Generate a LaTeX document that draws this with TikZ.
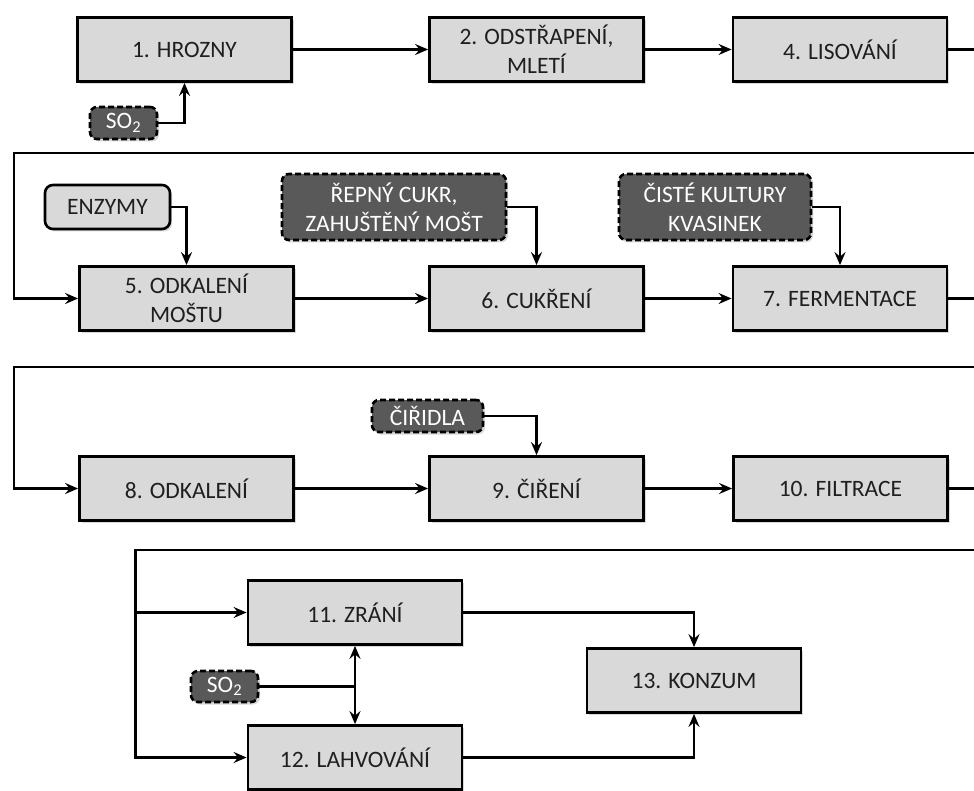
\documentclass[tikz,border=0pt]{standalone}
\usepackage{fontspec}
\setmainfont{Carlito}
\usetikzlibrary{arrows.meta,shadows}

\definecolor{boxgray}{HTML}{D9D9D9}
\definecolor{addgray}{HTML}{595959}
\definecolor{inkgray}{HTML}{1F1F1F}

\tikzset{
	stepbox/.style={draw, line width=2.8pt, fill=boxgray, text=inkgray, minimum width=214pt, minimum height=64pt, align=center, inner sep=2pt, drop shadow={shadow xshift=2pt, shadow yshift=-2.5pt, opacity=0.3}},
	addbox/.style={draw, dash pattern=on 6pt off 3pt, line width=2.6pt, rounded corners=7pt, fill=addgray, text=white, align=center, inner sep=2pt, drop shadow={shadow xshift=2pt, shadow yshift=-2.5pt, opacity=0.3}},
	enzbox/.style={draw, line width=2.6pt, rounded corners=8pt, fill=boxgray, text=inkgray, align=center, inner sep=2pt, drop shadow={shadow xshift=2pt, shadow yshift=-2.5pt, opacity=0.3}},
	conn/.style={line width=2.4pt, -{Stealth[length=13pt,width=11pt,inset=4.5pt]}},
	link/.style={line width=2.4pt}
}

\begin{document}
\begin{tikzpicture}[x=1pt, y=-1pt, font=\fontsize{23.5}{29}\selectfont]
		\useasboundingbox (0,0) rectangle (974,791);
		\clip (0,0) rectangle (974,791);
		
		\node[stepbox] (hrozny) at (184.5,49.5) {1. HROZNY};
		\node[stepbox] (mleti) at (536.5,49.5) {2. ODSTŘAPENÍ,\\MLETÍ};
		\node[stepbox] (lis) at (840,49.5) {4. LISOVÁNÍ};
		\node[addbox, minimum width=67pt, minimum height=32pt] (so2a) at (123.5,123) {SO\textsubscript{2}};
		
		\node[stepbox] (odkm) at (186.5,298.5) {5. ODKALENÍ\\MOŠTU};
		\node[stepbox] (cukr) at (536.5,298.5) {6. CUKŘENÍ};
		\node[stepbox] (ferm) at (840,298.5) {7. FERMENTACE};
		\node[enzbox, minimum width=125pt, minimum height=44pt] (enz) at (107.5,207) {ENZYMY};
		\node[addbox, minimum width=224pt, minimum height=66pt] (repny) at (394,207) {ŘEPNÝ CUKR,\\ZAHUŠTĚNÝ MOŠT};
		\node[addbox, minimum width=192pt, minimum height=66pt] (kult) at (715,207) {ČISTÉ KULTURY\\KVASINEK};
		
		\node[stepbox] (odk) at (186.5,488.5) {8. ODKALENÍ};
		\node[stepbox] (cir) at (536.5,488.5) {9. ČIŘENÍ};
		\node[stepbox] (filt) at (840.5,488.5) {10. FILTRACE};
		\node[addbox, minimum width=111pt, minimum height=32pt] (ciridla) at (427.5,416) {ČIŘIDLA};
		
		\node[stepbox] (zrani) at (355,612.5) {11. ZRÁNÍ};
		\node[stepbox] (lahv) at (355,757.5) {12. LAHVOVÁNÍ};
		\node[stepbox] (konz) at (694,680.5) {13. KONZUM};
		\node[addbox, minimum width=67pt, minimum height=31pt] (so2b) at (224.5,686.5) {SO\textsubscript{2}};
		
		\coordinate (r1) at (974,49.5);
		\coordinate (l2) at (974,153);
		\coordinate (r2) at (974,298.5);
		\coordinate (l3) at (974,367);
		\coordinate (r3) at (974,488.5);
		\coordinate (l4) at (974,550);
		\coordinate (j) at (zrani.south |- so2b.east);
		
		\draw[conn] (so2a.east) -| (hrozny.south);
		\draw[conn] (hrozny) -- (mleti);
		\draw[conn] (mleti) -- (lis);
		\draw[link] (lis.east) -- (r1);
		
		\draw[conn] (l2) -| ([xshift=-64pt]odkm.west) -- (odkm.west);
		\draw[conn] (enz.east) -| (odkm.north);
		\draw[conn] (repny.east) -| (cukr.north);
		\draw[conn] (kult.east) -| (ferm.north);
		\draw[conn] (odkm) -- (cukr);
		\draw[conn] (cukr) -- (ferm);
		\draw[link] (ferm.east) -- (r2);
		
		\draw[conn] (l3) -| ([xshift=-64pt]odk.west) -- (odk.west);
		\draw[conn] (ciridla.east) -| (cir.north);
		\draw[conn] (odk) -- (cir);
		\draw[conn] (cir) -- (filt);
		\draw[link] (filt.east) -- (r3);
		
		\draw[conn] (l4) -| ([xshift=-111pt]lahv.west) -- (lahv.west);
		\draw[conn] ([xshift=-111pt]zrani.west) -- (zrani.west);
		\draw[link] (so2b.east) -- (j);
		\draw[conn] (j) -- (zrani.south);
		\draw[conn] (j) -- (lahv.north);
		\draw[conn] (zrani.east) -| (konz.north);
		\draw[conn] (lahv.east) -| (konz.south);
	\end{tikzpicture}
\end{document}
